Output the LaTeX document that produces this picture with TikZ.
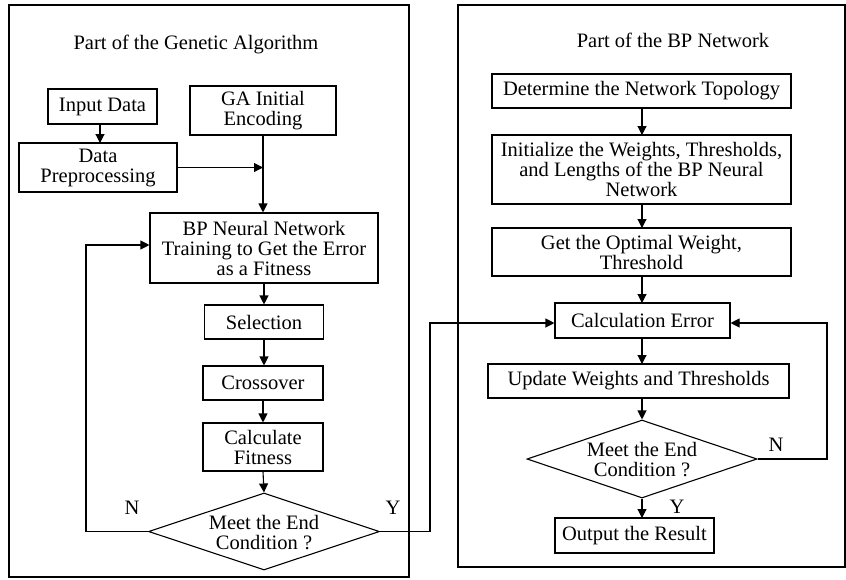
\documentclass[tikz,border=0pt]{standalone}
\usepackage{fontspec}
\setmainfont{Liberation Serif}
\usetikzlibrary{arrows.meta,shapes.geometric}
\begin{document}
\begin{tikzpicture}[x=1pt,y=-1pt,
  line width=1.1pt,
  font=\fontsize{20.5}{20}\selectfont,
  box/.style={draw,rectangle,inner sep=0pt,align=center},
  dia/.style={draw,diamond,inner sep=0pt},
  txt/.style={inner sep=0pt,align=center},
  arr/.style={-{Triangle[length=9pt,width=9pt]}}]
\useasboundingbox (0,0) rectangle (846,579);
% frames
\node[box,minimum width=400pt,minimum height=572pt] (lframe) at (209,291) {};
\node[box,minimum width=387pt,minimum height=562pt] (rframe) at (651.5,286) {};
\node[txt] (ltitle) at (196,44) {Part of the Genetic Algorithm};
\node[txt] (rtitle) at (673,40) {Part of the BP Network};
% left part
\node[box,minimum width=109pt,minimum height=35pt] (in) at (102.5,106.5) {Input Data};
\node[box,minimum width=158pt,minimum height=49pt] (prep) at (98,167.5) {Data\\Preprocessing};
\node[box,minimum width=146pt,minimum height=49pt] (ga) at (263,110.5) {GA Initial\\Encoding};
\node[box,minimum width=228pt,minimum height=70pt] (bp) at (264,248) {BP Neural Network\\Training to Get the Error\\as a Fitness};
\node[box,minimum width=119pt,minimum height=34pt] (sel) at (264,322) {Selection};
\node[box,minimum width=120pt,minimum height=34pt] (cross) at (263,383) {Crossover};
\node[box,minimum width=120pt,minimum height=48pt] (calc) at (263,447) {Calculate\\Fitness};
\node[dia,minimum width=231pt,minimum height=77pt] (d1) at (264,531.5) {};
\node[txt] (d1t) at (264,533) {Meet the End\\Condition ?};
\node[txt] (n1) at (132,508) {N};
\node[txt] (y1) at (393,508) {Y};
% right part
\node[box,minimum width=299pt,minimum height=34pt] (topo) at (641.5,91) {Determine the Network Topology};
\node[box,minimum width=299pt,minimum height=69pt] (init) at (641.5,169.5) {Initialize the Weights, Thresholds,\\and Lengths of the BP Neural\\Network};
\node[box,minimum width=299pt,minimum height=48pt] (opt) at (641.5,252) {Get the Optimal Weight,\\Threshold};
\node[box,minimum width=175pt,minimum height=35pt] (err) at (642.5,320.5) {Calculation Error};
\node[box,minimum width=301pt,minimum height=34pt] (upd) at (638.5,381) {Update Weights and Thresholds};
\node[dia,minimum width=230pt,minimum height=78pt] (d2) at (642,459) {};
\node[txt] (d2t) at (642,460) {Meet the End\\Condition ?};
\node[box,minimum width=159pt,minimum height=35pt] (out) at (634.5,535.5) {Output the Result};
\node[txt] (n2) at (776,445) {N};
\node[txt] (y2) at (677,507) {Y};
% connectors left
\draw[arr] (100,124) -- (100,143);
\draw[arr] (ga.south) -- (ga.south|-bp.north);
\draw[arr] (prep.east) -- (ga.south|-prep.east);
\draw[arr] (bp.south) -- (bp.south|-sel.north);
\draw[arr] (sel.south) -- (sel.south|-cross.north);
\draw[arr] (cross.south) -- (cross.south|-calc.north);
\draw[arr] (calc.south) -- (d1.north);
\coordinate (nl) at (86,245);
\draw[arr] (d1.west) -| (nl) -- (nl-|bp.west);
\coordinate (yc) at (430,323);
\draw[arr] (d1.east) -| (yc) -- (yc-|err.west);
% connectors right
\draw[arr] (642,108) -- (642,135);
\draw[arr] (642,204) -- (642,228);
\draw[arr] (642,276) -- (642,303);
\draw[arr] (642,338) -- (642,364);
\draw[arr] (642,398) -- (d2.north);
\draw[arr] (d2.south) -- (642,518);
\coordinate (nr) at (827,323);
\draw[arr] (d2.east) -| (nr) -- (nr-|err.east);
\end{tikzpicture}
\end{document}
